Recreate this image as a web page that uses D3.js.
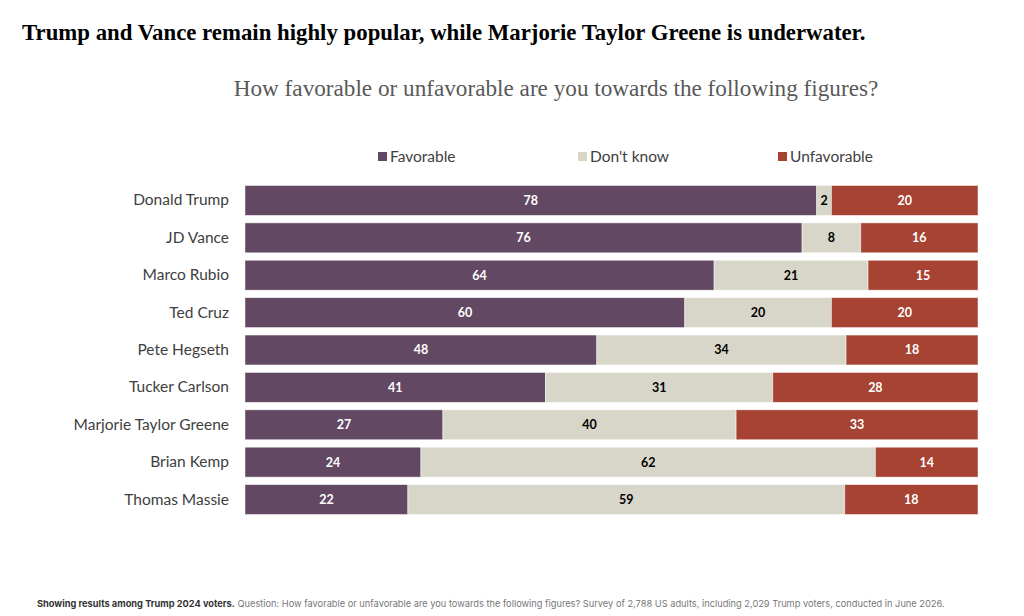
<!DOCTYPE html>
<html>
<head>
<meta charset="utf-8">
<style>
  body { margin: 0; background: #fff; }
  svg { display: block; }
</style>
</head>
<body>
<svg width="1024" height="616"></svg>
<script src="https://d3js.org/d3.v7.min.js"></script>
<script>

var names = ["Donald Trump", "JD Vance", "Marco Rubio", "Ted Cruz", "Pete Hegseth",
             "Tucker Carlson", "Marjorie Taylor Greene", "Brian Kemp", "Thomas Massie"];
var favorable   = [78, 76, 64, 60, 48, 41, 27, 24, 22];
var dontKnow    = [2, 8, 21, 20, 34, 31, 40, 62, 59];
var unfavorable = [20, 16, 15, 20, 18, 28, 33, 14, 18];

var keys = ["Favorable", "Don't know", "Unfavorable"];
var colors = ["#624862", "#d8d6c8", "#a64332"];
var labelColors = ["#fff", "#000", "#fff"];

var rows = names.map(function(n, i) {
  return { name: n, "Favorable": favorable[i], "Don't know": dontKnow[i], "Unfavorable": unfavorable[i] };
});

var svg = d3.select("svg"),
    margin = {top: 184, right: 46, bottom: 100, left: 245},
    width = 1024 - margin.left - margin.right,
    height = 516 - margin.top,
    g = svg.append("g").attr("transform", "translate(" + margin.left + "," + margin.top + ")");

// title + subtitle
svg.append("text")
    .attr("x", 22)
    .attr("y", 40)
    .attr("font-family", "Liberation Serif, serif")
    .attr("font-weight", "bold")
    .attr("font-size", 22.8)
    .attr("fill", "#000")
    .text("Trump and Vance remain highly popular, while Marjorie Taylor Greene is underwater.");

svg.append("text")
    .attr("x", 556)
    .attr("y", 96)
    .attr("text-anchor", "middle")
    .attr("font-family", "Liberation Serif, serif")
    .attr("font-size", 23.2)
    .attr("fill", "#595959")
    .text("How favorable or unfavorable are you towards the following figures?");

var series = d3.stack()
    .keys(keys)
    .offset(d3.stackOffsetExpand)(rows);

var x = d3.scaleLinear()
    .domain([0, 1])
    .range([0, width]);

var y = d3.scaleBand()
    .domain(names)
    .range([0, height])
    .paddingInner(0.2)
    .paddingOuter(0.04);

var color = d3.scaleOrdinal().domain(keys).range(colors);
var labelColor = d3.scaleOrdinal().domain(keys).range(labelColors);

// legend
var legendX = [378, 578, 778];
var legend = svg.append("g")
    .selectAll("g")
    .data(keys)
    .enter().append("g")
      .attr("transform", function(d, i) { return "translate(" + legendX[i] + ",157)"; });

legend.append("rect")
    .attr("x", 0)
    .attr("y", -5)
    .attr("width", 9)
    .attr("height", 9)
    .attr("fill", function(d) { return color(d); });

legend.append("text")
    .attr("x", 12)
    .attr("dy", "0.35em")
    .attr("font-family", "Lato, sans-serif")
    .attr("font-size", 15.5)
    .attr("fill", "#404040")
    .text(function(d) { return d; });

// bars
var layer = g.selectAll(".layer")
    .data(series)
    .enter().append("g")
      .attr("class", "layer")
      .attr("fill", function(d) { return color(d.key); });

layer.selectAll("rect")
    .data(function(d) { return d; })
    .enter().append("rect")
      .attr("x", function(d) { return x(d[0]); })
      .attr("y", function(d) { return y(d.data.name); })
      .attr("width", function(d) { return x(d[1]) - x(d[0]); })
      .attr("height", y.bandwidth())
      .attr("stroke", "#fff")
      .attr("stroke-opacity", 0.6)
      .attr("stroke-width", 0.8);

layer.selectAll("text")
    .data(function(s) { return s.map(function(d) { d.key = s.key; return d; }); })
    .enter().append("text")
      .attr("x", function(d) { return (x(d[0]) + x(d[1])) / 2; })
      .attr("y", function(d) { return y(d.data.name) + y.bandwidth() / 2; })
      .attr("dy", "0.35em")
      .attr("text-anchor", "middle")
      .attr("font-family", "Lato, sans-serif")
      .attr("font-weight", "bold")
      .attr("font-size", 12.5)
      .attr("fill", function(d) { return labelColor(d.key); })
      .text(function(d) { return d.data[d.key]; });

// category axis
g.append("g")
    .attr("transform", "translate(-10,0)")
    .call(d3.axisLeft(y).tickSize(0).tickPadding(6))
    .call(function(a) { a.select(".domain").remove(); })
    .selectAll("text")
      .attr("font-family", "Lato, sans-serif")
      .attr("font-size", 15.5)
      .attr("fill", "#404040");

// footnote
var note = svg.append("text")
    .attr("x", 37)
    .attr("y", 607)
    .attr("font-family", "Inter, sans-serif")
    .attr("font-size", 9.25)
    .attr("fill", "#777");

note.append("tspan")
    .attr("font-weight", "bold")
    .attr("fill", "#333")
    .text("Showing results among Trump 2024 voters.");

note.append("tspan")
    .text(" Question: How favorable or unfavorable are you towards the following figures? Survey of 2,788 US adults, including 2,029 Trump voters, conducted in June 2026.");

</script>
</body>
</html>
